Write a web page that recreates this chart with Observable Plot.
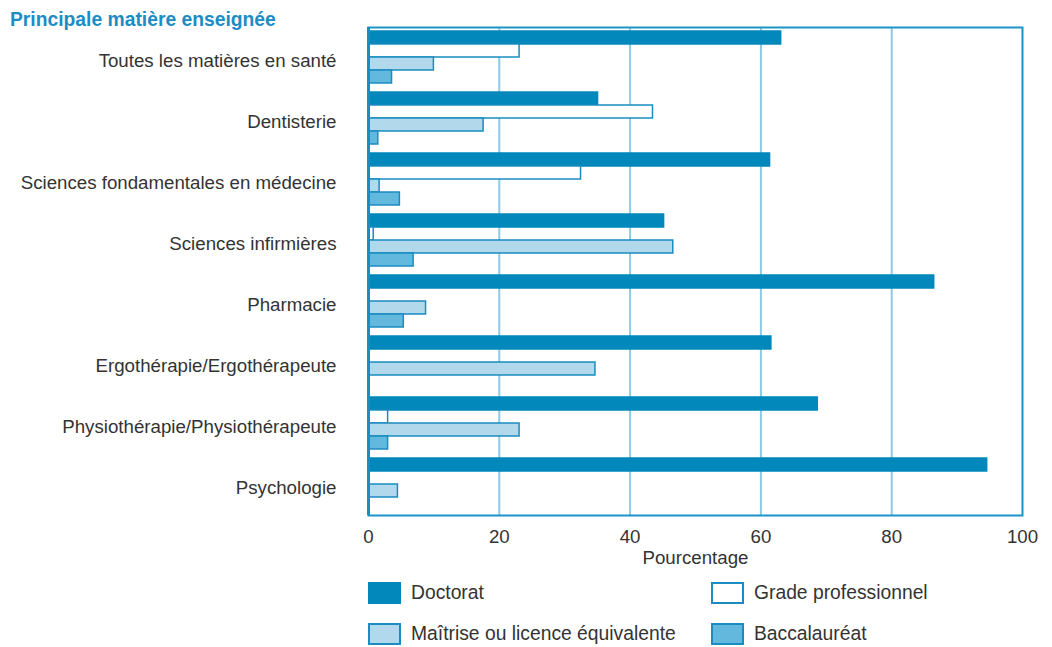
<!DOCTYPE html>
<html>
<head>
<meta charset="utf-8">
<script src="https://cdn.jsdelivr.net/npm/d3@7"></script>
<script src="https://cdn.jsdelivr.net/npm/@observablehq/plot@0.6"></script>
<style>
  html, body { margin: 0; padding: 0; background: #fff; }
  #wrap { position: relative; width: 1052px; height: 647px; overflow: hidden;
          font-family: "Liberation Sans", Arial, sans-serif; color: #333; }
  #title { position: absolute; left: 10px; top: 10px; font-family: "Liberation Sans", Arial, sans-serif;
           font-weight: bold; font-size: 19.3px; line-height: 19px; color: #1B8DC4; white-space: nowrap; }
  #chart { position: absolute; left: 0; top: 0; }
  .leg { position: absolute; display: flex; align-items: center; font-size: 19.3px; line-height: 22px; height: 22px; white-space: nowrap; color: #333; }
  .sw { width: 29px; height: 18px; border: 2px solid #1A8CC0; margin-right: 10px; box-sizing: content-box; }
</style>
</head>
<body>
<div id="wrap">
  <div id="chart"></div>
  <div id="title">Principale matière enseignée</div>
  <div id="legend"></div>
</div>
<script>
const categories = [
  "Toutes les matières en santé",
  "Dentisterie",
  "Sciences fondamentales en médecine",
  "Sciences infirmières",
  "Pharmacie",
  "Ergothérapie/Ergothérapeute",
  "Physiothérapie/Physiothérapeute",
  "Psychologie"
];
const seriesNames = ["Doctorat", "Grade professionnel", "Maîtrise ou licence équivalente", "Baccalauréat"];
const doctorat = [63.1, 35.1, 61.4, 45.2, 86.5, 61.6, 68.7, 94.6];
const gradeProfessionnel = [23.1, 43.5, 32.5, 0.8, 0, 0, 3.0, 0];
const maitrise = [10.0, 17.6, 1.7, 46.6, 8.8, 34.7, 23.1, 4.5];
const baccalaureat = [3.6, 1.5, 4.8, 6.9, 5.4, 0, 3.0, 0];
const xTicks = [0, 20, 40, 60, 80, 100];
const gridTicks = [20, 40, 60, 80];
const xLabel = "Pourcentage";

const seriesValues = [doctorat, gradeProfessionnel, maitrise, baccalaureat];
const fills = ["#0288BB", "#FFFFFF", "#B1D8EB", "#63B8DD"];
const strokes = ["#0288BB", "#1A8CC0", "#1A8CC0", "#1A8CC0"];

const W = 1052, H = 575, mt = 27, mb = H - 515, ml = 368, mr = 30;
const bw = (H - mt - mb) / categories.length;
const barH = 13, padTop = 4;

const rows = [];
seriesNames.forEach((s, i) => {
  categories.forEach((c, j) => rows.push({series: s, si: i, category: c, value: seriesValues[i][j]}));
});

const font = "'Liberation Sans', Arial, sans-serif";

const marks = [
  Plot.ruleX(gridTicks, {stroke: "#8DCAE5", strokeWidth: 2}),
  ...seriesNames.map((s, i) => Plot.barX(rows.filter(d => d.si === i && d.value > 0), {
    x: "value", y: "category",
    fill: fills[i], stroke: strokes[i], strokeWidth: 1.5,
    insetTop: padTop + i * barH,
    insetBottom: bw - padTop - (i + 1) * barH
  })),
  Plot.frame({stroke: "#1A93C8", strokeWidth: 2}),
  Plot.ruleX([0], {stroke: "#1A8CC0", strokeWidth: 3})
];

const hasAxisMarks = typeof Plot.axisX === "function";
if (hasAxisMarks) {
  marks.push(Plot.axisX({ticks: xTicks, tickSize: 0, tickPadding: 14, label: xLabel, labelArrow: "none", labelAnchor: "center", labelOffset: 48, fill: "#333", fontSize: 18.7}));
  marks.push(Plot.axisY({tickSize: 0, tickPadding: 32, label: null, dy: 3, fill: "#333", fontSize: 18.7}));
}

const chart = Plot.plot({
  width: W, height: H,
  marginTop: mt, marginBottom: mb, marginLeft: ml, marginRight: mr,
  style: {fontFamily: font, fontSize: "18.7px", color: "#333", background: "transparent", overflow: "visible"},
  x: hasAxisMarks ? {domain: [0, 100], axis: null} : {domain: [0, 100], ticks: xTicks, tickSize: 0, tickPadding: 14, label: xLabel, labelAnchor: "center", labelOffset: 48},
  y: hasAxisMarks ? {domain: categories, padding: 0, axis: null} : {domain: categories, padding: 0, tickSize: 0, tickPadding: 32, label: null},
  marks
});
document.getElementById("chart").appendChild(chart);

// legend
const legend = document.getElementById("legend");
const legPos = [
  {left: 368, top: 582}, {left: 711, top: 582},
  {left: 368, top: 623}, {left: 711, top: 623}
];
seriesNames.forEach((s, i) => {
  const item = document.createElement("div");
  item.className = "leg";
  item.style.left = legPos[i].left + "px";
  item.style.top = legPos[i].top + "px";
  const sw = document.createElement("div");
  sw.className = "sw";
  sw.style.background = fills[i];
  sw.style.borderColor = strokes[i];
  const t = document.createElement("span");
  t.textContent = s;
  item.appendChild(sw);
  item.appendChild(t);
  legend.appendChild(item);
});
</script>
</body>
</html>
